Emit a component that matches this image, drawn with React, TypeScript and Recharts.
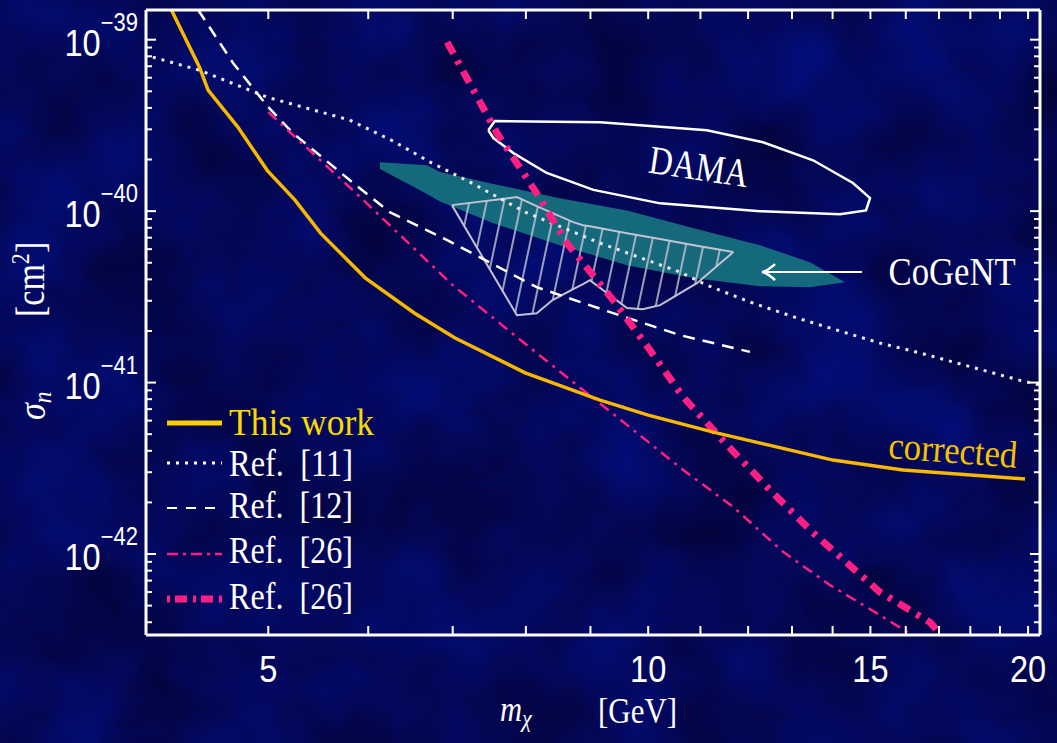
import { Area, ComposedChart, Legend, Line, ReferenceDot, XAxis, YAxis } from 'recharts'

const WIDTH = 1057
const HEIGHT = 743

const MASS_RANGE = [4.0, 20.44]
const SIGMA_RANGE = [3.37e-43, 1.49e-39]

const X_TICKS = [5, 6, 7, 8, 9, 10, 11, 12, 13, 14, 15, 16, 17, 18, 19, 20]
const X_TICK_LABELS = [5, 10, 15, 20]
const Y_DECADES = [-43, -42, -41, -40, -39]
const Y_MANTISSAS = [1, 2, 3, 4, 5, 6, 7, 8, 9]
const Y_TICKS = Y_DECADES.flatMap((e) => Y_MANTISSAS.map((m) => Number(`${m}e${e}`))).filter(
  (v) => v >= SIGMA_RANGE[0] && v <= SIGMA_RANGE[1],
)

// This work (yellow)
const THIS_WORK_MASS = [4.19, 4.41, 4.48, 4.73, 4.99, 5.25, 5.5, 5.97, 6.53, 7.03, 7.99, 9.16, 10.0, 11.26, 14.01, 15.92, 19.89]
const THIS_WORK_SIGMA = [
  1.49e-39, 6.92e-40, 5.08e-40, 3.09e-40, 1.73e-40, 1.16e-40, 7.44e-41, 4.07e-41, 2.54e-41, 1.82e-41, 1.14e-41, 7.9e-42,
  6.46e-42, 5.14e-42, 3.53e-42, 3.09e-42, 2.74e-42,
]

// Ref. [11] (dotted)
const REF11_MASS = [4.05, 4.41, 4.99, 5.8, 6.28, 6.72, 7.22, 7.99, 9.16, 10.6, 11.13, 12.04, 13.12, 15.26, 16.42, 19.71, 20.44]
const REF11_SIGMA = [
  7.91e-40, 6.64e-40, 4.62e-40, 3.4e-40, 2.56e-40, 1.93e-40, 1.48e-40, 9.87e-41, 6.51e-41, 4.41e-41, 3.7e-41, 2.95e-41,
  2.38e-41, 1.7e-41, 1.49e-41, 1.03e-41, 9.67e-42,
]

// Ref. [12] (dashed)
const REF12_MASS = [4.4, 4.69, 5.0, 5.23, 5.84, 6.24, 6.93, 8.16, 9.38, 10.6, 12.04]
const REF12_SIGMA = [1.49e-39, 7.29e-40, 4.04e-40, 2.85e-40, 1.456e-40, 9.87e-41, 6.77e-41, 3.6e-41, 2.54e-41, 1.89e-41, 1.51e-41]

// Ref. [26] thin dash-dot
const REF26A_MASS = [5.0, 5.89, 7.0, 7.87, 8.88, 9.45, 10.66, 11.68, 12.79, 13.93, 15.35, 16.42]
const REF26A_SIGMA = [3.78e-40, 1.24e-40, 3.7e-41, 1.84e-41, 9.04e-42, 6.29e-42, 3.09e-42, 1.88e-42, 1.03e-42, 6.6e-43, 4.29e-43, 3.15e-43]

// Ref. [26] thick dash-dot
const REF26B_MASS = [6.93, 7.59, 8.16, 8.62, 9.38, 10.03, 10.66, 11.55, 12.49, 13.51, 15.26, 16.72, 17.34]
const REF26B_SIGMA = [
  9.67e-40, 2.85e-40, 1.27e-40, 6.51e-41, 3.03e-41, 1.55e-41, 8.23e-42, 4.32e-42, 2.36e-42, 1.33e-42, 6.0e-43, 4.0e-43,
  2.95e-43,
]

// DAMA contour (closed)
const DAMA_MASS = [7.47, 7.56, 9.16, 11.13, 12.33, 13.51, 14.53, 14.99, 14.88, 14.19, 12.26, 10.22, 9.05, 8.31, 7.82, 7.54, 7.47]
const DAMA_SIGMA = [
  2.96e-40, 3.35e-40, 3.3e-40, 2.96e-40, 2.52e-40, 1.98e-40, 1.46e-40, 1.19e-40, 1.01e-40, 9.6e-41, 1.0e-40, 1.11e-40,
  1.33e-40, 1.67e-40, 2.18e-40, 2.67e-40, 2.96e-40,
]

// CoGeNT region
const COGENT_MASS = [6.13, 6.68, 6.84, 7.54, 8.51, 9.62, 10.85, 12.26, 13.43, 14.32]
const COGENT_LOW = [1.76e-40, 1.26e-40, 1.14e-40, 8.51e-41, 6.33e-41, 4.84e-41, 4.07e-41, 3.65e-41, 3.6e-41, 3.85e-41]
const COGENT_HIGH = [1.93e-40, 1.85e-40, 1.69e-40, 1.44e-40, 1.19e-40, 1.01e-40, 7.96e-41, 6.33e-41, 5.04e-41, 3.85e-41]

// hatched region
const HATCH_MASS = [6.99, 7.87, 8.16, 8.4, 8.72, 8.88, 8.99, 9.62, 9.9, 10.22, 10.93, 11.68]
const HATCH_LOW = [1.084e-40, 2.47e-41, 2.54e-41, 3.03e-41, 3.51e-41, 3.75e-41, 3.96e-41, 2.72e-41, 2.68e-41, 2.83e-41, 3.8e-41, 5.77e-41]
const HATCH_HIGH = [1.084e-40, 1.207e-40, 1.069e-40, 9.73e-41, 8.63e-41, 8.28e-41, 8.17e-41, 7.44e-41, 7.17e-41, 6.88e-41, 6.29e-41, 5.77e-41]

// CoGeNT arrow
const ARROW_MASS = [14.77, 12.31]
const ARROW_SIGMA = [4.41e-41, 4.41e-41]

const LEGEND_LABELS = ['This work', 'Ref.\u00a0\u00a0[11]', 'Ref.\u00a0\u00a0[12]', 'Ref.\u00a0\u00a0[26]', 'Ref.\u00a0\u00a0[26]']

const SERIF = "'Liberation Serif', 'Times New Roman', serif"
const SANS = "'Liberation Sans', Arial, sans-serif"
const YELLOW = '#f9b800'
const PINK = '#ff1f84'

const toPoints = (xs: number[], ys: number[]) => xs.map((x, i) => ({ x, y: ys[i] }))
const toBand = (xs: number[], lo: number[], hi: number[]) => xs.map((x, i) => ({ x, band: [lo[i], hi[i]] }))

const isDecade = (v: number) => String(v).startsWith('1e')

function BottomTick({ x, y, payload }: any) {
  return (
    <g>
      <line x1={x} x2={x} y1={y} y2={y - 9} stroke="#fff" strokeWidth={2} />
      {X_TICK_LABELS.includes(payload.value) && (
        <text
          transform={`translate(${x},${y + 47}) scale(0.88,1)`}
          textAnchor="middle"
          fill="#fff"
          fontFamily={SANS}
          fontSize={37}
        >
          {payload.value}
        </text>
      )}
    </g>
  )
}

function TopTick({ x, y }: any) {
  return <line x1={x} x2={x} y1={y} y2={y + 9} stroke="#fff" strokeWidth={2} />
}

function LeftTick({ x, y, payload }: any) {
  const major = isDecade(payload.value)
  const exp = Math.round(Math.log10(payload.value))
  return (
    <g>
      <line x1={x} x2={x + (major ? 10 : 6)} y1={y} y2={y} stroke="#fff" strokeWidth={2} />
      {major && (
        <text
          transform={`translate(${x - 8},${y + 16}) scale(0.88,1)`}
          textAnchor="end"
          fill="#fff"
          fontFamily={SANS}
          fontSize={37}
        >
          10
          <tspan fontSize={25} dy={-25}>{`\u2212${Math.abs(exp)}`}</tspan>
        </text>
      )}
    </g>
  )
}

function RightTick({ x, y, payload }: any) {
  const major = isDecade(payload.value)
  return <line x1={x} x2={x - (major ? 10 : 6)} y1={y} y2={y} stroke="#fff" strokeWidth={2} />
}

function XTitle() {
  return (
    <g fill="#fff" fontFamily={SERIF}>
      <text transform="translate(500,721) scale(0.85,1)" fontSize={36} fontStyle="italic">
        m<tspan fontSize={26} dy={6}>χ</tspan>
      </text>
      <text transform="translate(598,723) scale(0.86,1)" fontSize={36}>
        [GeV]
      </text>
    </g>
  )
}

function YTitle() {
  return (
    <g fill="#fff" fontFamily={SERIF}>
      <text transform="translate(45,420) rotate(-90) scale(0.9,1)" fontSize={38} fontStyle="italic">
        σ<tspan fontSize={26} dy={6}>n</tspan>
      </text>
      <text transform="translate(44,317) rotate(-90) scale(0.85,1)" fontSize={40}>
        [cm<tspan fontSize={26} dy={-15}>2</tspan>
        <tspan dy={15}>]</tspan>
      </text>
    </g>
  )
}

function LegendSample({ index, y }: { index: number; y: number }) {
  const common = { x1: 17, x2: 72, y1: y, y2: y }
  if (index === 0) return <line {...common} stroke="#f8d000" strokeWidth={5} />
  if (index === 1) return <line {...common} stroke="#fff" strokeWidth={3} strokeDasharray="3 6" />
  if (index === 2) return <line {...common} stroke="#fff" strokeWidth={2} strokeDasharray="10 9" />
  if (index === 3) return <line {...common} stroke={PINK} strokeWidth={2.5} strokeDasharray="11 5 3 5" />
  return <line {...common} stroke={PINK} strokeWidth={7} strokeDasharray="3 5 12 6" />
}

function LegendBox() {
  const baselines = [40, 81, 123, 168, 214]
  return (
    <svg width={240} height={230} style={{ display: 'block', overflow: 'visible' }}>
      {LEGEND_LABELS.map((label, i) => (
        <g key={i}>
          <LegendSample index={i} y={[28, 68, 113, 159, 204][i]} />
          <text
            x={79}
            y={baselines[i]}
            fill={i === 0 ? '#f8da00' : '#fff'}
            fontFamily={SERIF}
            fontSize={38}
            textLength={i === 0 ? 145 : 124}
            lengthAdjust="spacingAndGlyphs"
          >
            {label}
          </text>
        </g>
      ))}
    </svg>
  )
}

function ArrowHead(p: any) {
  if (p.index !== ARROW_MASS.length - 1) return <g key={`a-${p.index}`} />
  const { cx, cy } = p
  return (
    <path
      key={`a-${p.index}`}
      d={`M${cx + 13},${cy - 8} Q${cx + 5},${cy - 1} ${cx},${cy} Q${cx + 5},${cy + 1} ${cx + 13},${cy + 8}`}
      fill="none"
      stroke="#fff"
      strokeWidth={2.5}
    />
  )
}

function Annotation({ text, color, size, width, angle }: { text: string; color: string; size: number; width: number; angle: number }) {
  return (p: any) => (
    <text
      x={p.cx}
      y={p.cy}
      transform={`rotate(${angle} ${p.cx} ${p.cy})`}
      textAnchor="middle"
      fill={color}
      fontFamily={SERIF}
      fontSize={size}
      textLength={width}
      lengthAdjust="spacingAndGlyphs"
    >
      {text}
    </text>
  )
}

export default function App() {
  return (
    <div style={{ position: 'relative', width: WIDTH, height: HEIGHT, background: '#05066a' }}>
      <style>{'body{margin:0}'}</style>
      <svg width={WIDTH} height={HEIGHT} style={{ position: 'absolute', left: 0, top: 0 }}>
        <defs>
          <filter id="bg-noise" x="0" y="0" width="100%" height="100%" colorInterpolationFilters="sRGB">
            <feTurbulence type="fractalNoise" baseFrequency="0.009" numOctaves={4} seed={7} />
            <feColorMatrix type="matrix" values="0 0 0 0 0.01  0.06 0 0 0 0  0.36 0 0 0 0.17  0 0 0 0 1" />
          </filter>
          <pattern id="hatch" width={17} height={40} patternUnits="userSpaceOnUse" patternTransform="rotate(12)">
            <line x1={8} y1={0} x2={8} y2={40} stroke="#c2c2d4" strokeWidth={1.6} />
          </pattern>
        </defs>
        <rect width={WIDTH} height={HEIGHT} filter="url(#bg-noise)" />
      </svg>
      <ComposedChart width={WIDTH} height={HEIGHT} margin={{ top: 0, right: 0, bottom: 0, left: 0 }}>
        <XAxis
          dataKey="x"
          type="number"
          scale="log"
          domain={MASS_RANGE}
          allowDataOverflow
          ticks={X_TICKS}
          interval={0}
          height={108}
          tickSize={0}
          tickMargin={0}
          tickLine={false}
          tick={<BottomTick />}
          axisLine={{ stroke: '#fff', strokeWidth: 3 }}
          label={<XTitle />}
        />
        <XAxis
          xAxisId="top"
          orientation="top"
          dataKey="x"
          type="number"
          scale="log"
          domain={MASS_RANGE}
          allowDataOverflow
          ticks={X_TICKS}
          interval={0}
          height={10}
          tickSize={0}
          tickMargin={0}
          tickLine={false}
          tick={<TopTick />}
          axisLine={{ stroke: '#fff', strokeWidth: 3 }}
        />
        <YAxis
          type="number"
          scale="log"
          domain={SIGMA_RANGE}
          allowDataOverflow
          ticks={Y_TICKS}
          interval={0}
          width={146}
          tickSize={0}
          tickMargin={0}
          tickLine={false}
          tick={<LeftTick />}
          axisLine={{ stroke: '#fff', strokeWidth: 3 }}
          label={<YTitle />}
        />
        <YAxis
          yAxisId="right"
          orientation="right"
          type="number"
          scale="log"
          domain={SIGMA_RANGE}
          allowDataOverflow
          ticks={Y_TICKS}
          interval={0}
          width={17}
          tickSize={0}
          tickMargin={0}
          tickLine={false}
          tick={<RightTick />}
          axisLine={{ stroke: '#fff', strokeWidth: 3 }}
        />

        <Area
          name="CoGeNT"
          data={toBand(COGENT_MASS, COGENT_LOW, COGENT_HIGH)}
          dataKey="band"
          type="linear"
          fill="#17727f"
          fillOpacity={0.92}
          stroke="none"
          legendType="none"
          isAnimationActive={false}
        />
        <Area
          name="hatched"
          data={toBand(HATCH_MASS, HATCH_LOW, HATCH_HIGH)}
          dataKey="band"
          type="linear"
          fill="url(#hatch)"
          fillOpacity={1}
          stroke="#c2c2d4"
          strokeWidth={2}
          legendType="none"
          isAnimationActive={false}
        />
        <Line
          name="DAMA"
          data={toPoints(DAMA_MASS, DAMA_SIGMA)}
          dataKey="y"
          type="linear"
          stroke="#fff"
          strokeWidth={2.5}
          dot={false}
          activeDot={false}
          legendType="none"
          isAnimationActive={false}
        />
        <Line
          name="Ref. [11]"
          data={toPoints(REF11_MASS, REF11_SIGMA)}
          dataKey="y"
          type="linear"
          stroke="#ececf4"
          strokeWidth={3}
          strokeDasharray="3 6"
          dot={false}
          activeDot={false}
          isAnimationActive={false}
        />
        <Line
          name="Ref. [12]"
          data={toPoints(REF12_MASS, REF12_SIGMA)}
          dataKey="y"
          type="linear"
          stroke="#fff"
          strokeWidth={2.5}
          strokeDasharray="12 8"
          dot={false}
          activeDot={false}
          isAnimationActive={false}
        />
        <Line
          name="Ref. [26]"
          data={toPoints(REF26A_MASS, REF26A_SIGMA)}
          dataKey="y"
          type="linear"
          stroke={PINK}
          strokeWidth={2.5}
          strokeDasharray="11 6 3 6"
          dot={false}
          activeDot={false}
          isAnimationActive={false}
        />
        <Line
          name="Ref. [26] "
          data={toPoints(REF26B_MASS, REF26B_SIGMA)}
          dataKey="y"
          type="linear"
          stroke={PINK}
          strokeWidth={7}
          strokeDasharray="13 8 4 8"
          dot={false}
          activeDot={false}
          isAnimationActive={false}
        />
        <Line
          name="This work"
          data={toPoints(THIS_WORK_MASS, THIS_WORK_SIGMA)}
          dataKey="y"
          type="linear"
          stroke={YELLOW}
          strokeWidth={3.5}
          dot={false}
          activeDot={false}
          isAnimationActive={false}
        />
        <Line
          name="arrow"
          data={toPoints(ARROW_MASS, ARROW_SIGMA)}
          dataKey="y"
          type="linear"
          stroke="#fff"
          strokeWidth={2}
          dot={ArrowHead}
          activeDot={false}
          legendType="none"
          isAnimationActive={false}
        />

        <ReferenceDot
          x={10.93}
          y={1.52e-40}
          r={0}
          shape={Annotation({ text: 'DAMA', color: '#fff', size: 40, width: 100, angle: 8.5 })}
        />
        <ReferenceDot
          x={17.41}
          y={3.7e-41}
          r={0}
          shape={Annotation({ text: 'CoGeNT', color: '#fff', size: 40, width: 127, angle: 0 })}
        />
        <ReferenceDot
          x={17.41}
          y={3.4e-42}
          r={0}
          shape={Annotation({ text: 'corrected', color: '#f5c200', size: 38, width: 129, angle: 4.4 })}
        />

        <Legend
          layout="vertical"
          align="center"
          verticalAlign="middle"
          content={<LegendBox />}
          wrapperStyle={{ left: 150, top: 395, width: 240, height: 230 }}
        />
      </ComposedChart>
    </div>
  )
}
